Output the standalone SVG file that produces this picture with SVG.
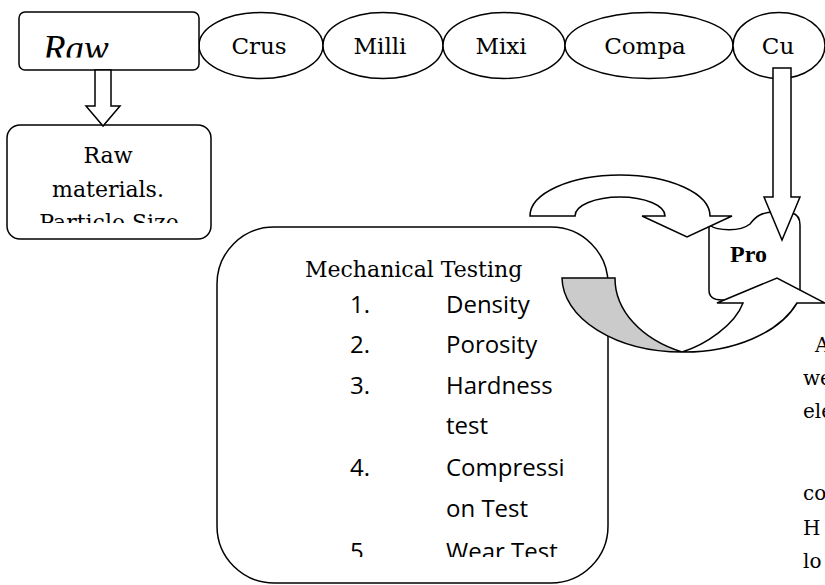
<svg xmlns="http://www.w3.org/2000/svg" width="825" height="585" viewBox="0 0 825 585">
<style>
.sh{fill:#fff;stroke:#000;stroke-width:1.5;stroke-linejoin:miter}
.gray{fill:#cbcbcb;stroke:#000;stroke-width:1.5}
.serif{font-family:"DejaVu Serif","Liberation Serif",serif;font-size:22px;fill:#000}
.ell{font-family:"DejaVu Serif","Liberation Serif",serif;font-size:23px;fill:#000;text-anchor:middle}
.list{font-family:"Open Sans","Liberation Sans",sans-serif;font-size:24px;fill:#000}
</style>
<defs>
<clipPath id="clipRaw"><rect x="19" y="12" width="180" height="45.5"/></clipPath>
<clipPath id="clipRM"><rect x="7" y="125" width="204" height="98"/></clipPath>
<clipPath id="clipMT"><rect x="217" y="227" width="391" height="330"/></clipPath>
</defs>
<rect width="825" height="585" fill="#fff"/>

<g id="node-crus"><ellipse class="sh" cx="261" cy="45.5" rx="62" ry="33"/><text class="ell" x="259" y="54">Crus</text></g>
<g id="node-milli"><ellipse class="sh" cx="383" cy="45.5" rx="60" ry="33"/><text class="ell" x="380" y="54">Milli</text></g>
<g id="node-mixi"><ellipse class="sh" cx="504" cy="45.5" rx="61" ry="33"/><text class="ell" x="501" y="54">Mixi</text></g>
<g id="node-compa"><ellipse class="sh" cx="649" cy="45.5" rx="84" ry="33"/><text class="ell" x="645" y="54">Compa</text></g>
<g id="node-cu"><ellipse class="sh" cx="779" cy="45.5" rx="46" ry="33"/><text class="ell" x="778" y="54">Cu</text></g>

<g id="node-raw">
<rect class="sh" x="19" y="12" width="180" height="58" rx="6"/>
<text clip-path="url(#clipRaw)" x="43" y="61" font-family="Liberation Serif, serif" font-style="italic" font-size="37">Raw</text>
</g>

<g id="node-rawmaterials">
<rect class="sh" x="7" y="125" width="204" height="114" rx="13"/>
<g clip-path="url(#clipRM)" class="serif" text-anchor="middle">
<text x="108" y="163">Raw</text>
<text x="108" y="197">materials.</text>
<text x="109" y="230">Particle Size</text>
</g>
</g>

<g id="node-mechanical">
<rect class="sh" x="217" y="227" width="391" height="356" rx="57"/>
<text class="serif" x="305" y="277">Mechanical Testing</text>
<g clip-path="url(#clipMT)" class="list">
<text x="350" y="313">1.</text><text x="446" y="313">Density</text>
<text x="350" y="353">2.</text><text x="446" y="353">Porosity</text>
<text x="350" y="394">3.</text><text x="446" y="394">Hardness</text>
<text x="446" y="434">test</text>
<text x="350" y="476">4.</text><text x="446" y="476">Compressi</text>
<text x="446" y="517">on Test</text>
<text x="350" y="560">5.</text><text x="446" y="560">Wear Test</text>
</g>
</g>

<g id="node-pro">
<path class="sh" d="M709,225 C718,231 740,232 750,224 C756,216 762,212 775,212 L792,213 Q800,215 800,225 L800,300 L722,300 Q709,300 709,290 Z"/>
<text x="730" y="262" font-family="Liberation Serif, serif" font-weight="bold" font-size="24">Pro</text>
</g>

<g id="connectors">
<path id="arrow-raw" class="sh" d="M95,70 L111,70 L111,106 L120,106 L103,126 L86,106 L95,106 Z"/>
<path id="arrow-top-curved" class="sh" d="M530,216 A90,41 0 0 1 710,216 L732,216 L687,237 L642,216 L665,216 A45,19 0 0 0 575,216 Z"/>
<path id="arrow-cu" class="sh" d="M773,68 L791,68 L791,197 L800,197 L782,240 L764,197 L773,197 Z"/>
<g id="arrow-lower-curved">
<path class="gray" d="M562,278 L615,278 A110,80 0 0 0 682,352 A120,75 0 0 1 562,278 Z"/>
<path class="sh" d="M682,352 C705,345 735,325 743,303 L717,303 L777,278 L825,303 L797,303 A120,75 0 0 1 682,352 Z"/>
</g>
</g>

<g id="side-text" font-family="DejaVu Serif, Liberation Serif, serif" font-size="20">
<text x="815" y="352">A</text>
<text x="803" y="385">we</text>
<text x="803" y="418">ele</text>
<text x="803" y="500">co</text>
<text x="803" y="535">H</text>
<text x="803" y="568">lo</text>
<text x="803" y="596">ar</text>
</g>
</svg>
